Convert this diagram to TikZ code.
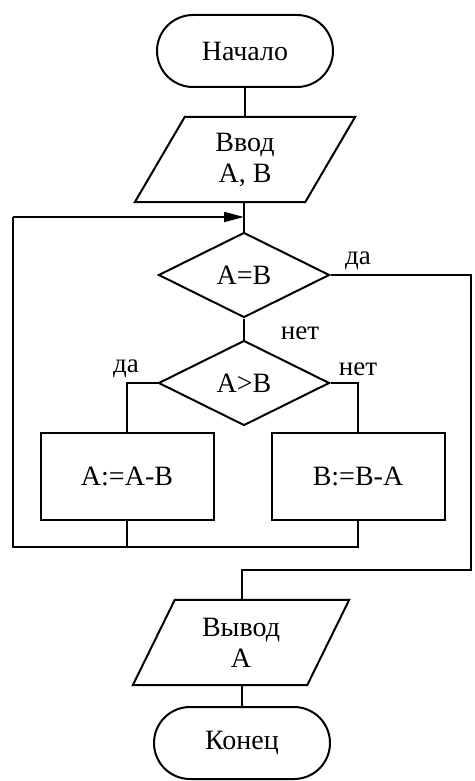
\documentclass[tikz,border=0pt]{standalone}
\usepackage{fontspec}
\setmainfont{Liberation Serif}
\usetikzlibrary{shapes.geometric,shapes.misc,arrows.meta}
\begin{document}
\begin{tikzpicture}[x=1pt,y=-1pt,
  every node/.style={font=\fontsize{28}{31}\selectfont, inner sep=0pt},
  ln/.style={line width=2pt, line join=miter},
  term/.style={ln, draw, rounded rectangle, minimum width=176pt, minimum height=72pt},
  iobox/.style={rectangle, minimum height=85pt, align=center},
  cond/.style={ln, draw, diamond, minimum width=171pt, minimum height=85pt},
  proc/.style={ln, draw, rectangle, minimum width=173pt, minimum height=87pt},
  lab/.style={font=\fontsize{27}{30}\selectfont}
]
\useasboundingbox (0,0) rectangle (474,781);
\node[term] (start) at (245,51) {Начало};
\node[iobox, minimum width=170pt] (in) at (245,159.5) {Ввод\\A, B};
\draw[ln] ([xshift=25pt]in.north west) -- ([xshift=25pt]in.north east)
  -- ([xshift=-25pt]in.south east) -- ([xshift=-25pt]in.south west) -- cycle;
\node[cond] (d1) at (244,275) {A=B};
\node[cond] (d2) at (244,383) {A>B};
\node[proc] (pa) at (127,476.5) {A:=A-B};
\node[proc] (pb) at (358,476.5) {B:=B-A};
\node[iobox, minimum width=174pt] (out) at (241,642.5) {Вывод\\A};
\draw[ln] ([xshift=21pt]out.north west) -- ([xshift=21pt]out.north east)
  -- ([xshift=-21pt]out.south east) -- ([xshift=-21pt]out.south west) -- cycle;
\node[term] (end) at (242,743) {Конец};

\coordinate (loopL) at (13,547);
\coordinate (loopT) at (13,217);
\coordinate (yesR) at (471,275);
\coordinate (yesB) at (471,570);

\draw[ln] (start.south) -- (start.south |- in.north);
\draw[ln] (in.south -| d1.north) -- (d1.north);
\draw[ln] (d1.south) -- (d2.north);
\draw[ln] (d2.west) -| (pa.north);
\draw[ln] (d2.east) -| (pb.north);
\draw[ln] (pa.south) -- (pa.south |- loopL);
\draw[ln] (pb.south) |- (loopL) -- (loopT);
\draw[ln, -{Triangle[length=20pt,width=10pt]}] (loopT) -- (loopT -| d1.north);
\draw[ln] (d1.east) -- (yesR) -- (yesB) -| (out.north -| end.north);
\draw[ln] (out.south -| end.north) -- (end.north);

\node[lab] (l1) at (358,261) {да};
\node[lab] (l2) at (300,333) {нет};
\node[lab] (l3) at (126,369) {да};
\node[lab] (l4) at (358,369) {нет};
\end{tikzpicture}
\end{document}
